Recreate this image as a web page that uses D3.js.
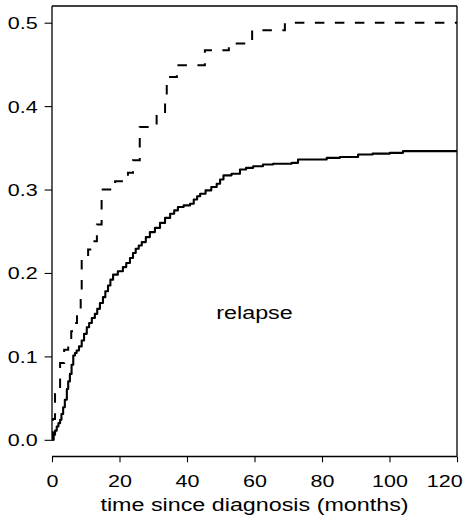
<!DOCTYPE html>
<html>
<head>
<meta charset="utf-8">
<script src="https://cdn.jsdelivr.net/npm/d3@7"></script>
<style>
  html, body { margin: 0; padding: 0; background: #fff; }
  svg { display: block; }
  text { font-family: "Liberation Sans", Arial, Helvetica, sans-serif; fill: #000; }
</style>
</head>
<body>
<svg id="chart" width="464" height="518"></svg>
<script>
// ---- data ----
// dashed curve: step points [months, cumulative incidence]
const dashedTimes  = [0, 0.3, 0.9, 2.4, 3.6, 4.8, 5.7, 6.5, 7.4, 8.5, 8.8, 10.7, 11.8, 13.3, 14.7, 18.7, 22.5, 24.0, 26.0, 31.0, 33.5, 34.0, 37.0, 45.3, 52.4, 59.3, 69.0, 120];
const dashedValues = [0, 0.025, 0.055, 0.092, 0.108, 0.12, 0.13, 0.14, 0.15, 0.18, 0.216, 0.228, 0.238, 0.258, 0.30, 0.31, 0.32, 0.335, 0.375, 0.39, 0.41, 0.435, 0.449, 0.467, 0.475, 0.491, 0.50, 0.50];
// solid curve
const solidTimes  = [0, 0.5, 0.9, 1.4, 1.9, 2.4, 2.8, 3.3, 3.8, 4.4, 4.8, 5.3, 5.8, 6.3, 6.8, 7.3, 8.0, 8.8, 9.5, 10.3, 11.0, 11.8, 12.7, 13.4, 14.2, 15.1, 15.8, 16.6, 17.3, 18.1, 19.5, 21.0, 22.0, 23.1, 24.0, 24.8, 25.7, 26.6, 27.8, 29.0, 30.5, 32.0, 33.5, 35.0, 36.2, 37.3, 39.0, 40.9, 42.0, 43.0, 43.9, 45.5, 47.2, 48.8, 49.8, 50.8, 53.2, 55.7, 57.5, 59.6, 62.5, 65.5, 71.0, 72.9, 81.4, 85.3, 90.7, 95.0, 100.1, 104.0, 120];
const solidValues = [0, 0.006, 0.011, 0.016, 0.02, 0.024, 0.031, 0.039, 0.048, 0.061, 0.07, 0.079, 0.09, 0.101, 0.104, 0.107, 0.112, 0.119, 0.127, 0.135, 0.14, 0.146, 0.151, 0.157, 0.164, 0.171, 0.178, 0.185, 0.192, 0.198, 0.202, 0.207, 0.212, 0.218, 0.224, 0.229, 0.233, 0.237, 0.243, 0.249, 0.254, 0.26, 0.266, 0.271, 0.275, 0.279, 0.281, 0.283, 0.288, 0.292, 0.295, 0.299, 0.303, 0.307, 0.312, 0.317, 0.319, 0.324, 0.326, 0.328, 0.330, 0.331, 0.332, 0.336, 0.338, 0.339, 0.342, 0.343, 0.344, 0.346, 0.346];
const xTicks = [0, 20, 40, 60, 80, 100, 120];
const yTicks = [0.0, 0.1, 0.2, 0.3, 0.4, 0.5];
const xLabel = "time since diagnosis (months)";
const panelLabel = "relapse";

// ---- layout ----
const mLeft = 52, mRight = 457, mTop = 6, mBottom = 456.5;
const tickFont = 16.8, labFont = 18.5, sxTick = 1.28, sxLab = 1.26;

const svg = d3.select("#chart");
const x = d3.scaleLinear().domain([0, 120]).range([mLeft, mRight]);
const y = d3.scaleLinear().domain([-0.02, 0.52]).range([mBottom, mTop]);

const dashed = dashedTimes.map((t, i) => [t, dashedValues[i]]);
const solid = solidTimes.map((t, i) => [t, solidValues[i]]);

const line = d3.line().x(d => x(d[0])).y(d => y(d[1])).curve(d3.curveStepAfter);

svg.append("path").datum(solid)
  .attr("d", line).attr("fill", "none").attr("stroke", "#000")
  .attr("stroke-width", 2.1).attr("stroke-linejoin", "round");

svg.append("path").datum(dashed)
  .attr("d", line).attr("fill", "none").attr("stroke", "#000")
  .attr("stroke-width", 2).attr("stroke-dasharray", "9.5,10.5");

// ---- frame ----
const frame = svg.append("g").attr("stroke", "#000").attr("stroke-width", 1.3).attr("fill", "none");
frame.append("line").attr("x1", mLeft).attr("x2", mRight).attr("y1", mTop).attr("y2", mTop);
frame.append("line").attr("x1", mRight).attr("x2", mRight).attr("y1", mTop).attr("y2", mBottom);
frame.append("line").attr("x1", mLeft).attr("x2", mRight).attr("y1", mBottom).attr("y2", mBottom);
frame.append("line").attr("x1", mLeft).attr("x2", mLeft).attr("y1", mTop).attr("y2", y(0));

// ---- axes ----
const yAxis = d3.axisLeft(y).tickValues(yTicks).tickFormat(d3.format(".1f")).tickSize(7.4);
const gy = svg.append("g").attr("transform", `translate(${mLeft},0)`).call(yAxis);
gy.select(".domain").remove();
gy.selectAll(".tick line").attr("stroke-width", 1.1);
gy.selectAll(".tick text")
  .attr("font-size", tickFont).attr("font-family", null)
  .attr("x", -14.3 / sxTick).attr("dy", "0.355em")
  .attr("transform", `scale(${sxTick},1)`);

const xAxis = d3.axisBottom(x).tickValues(xTicks).tickFormat(d3.format("d")).tickSize(5.7);
const gx = svg.append("g").attr("transform", `translate(0,${mBottom})`).call(xAxis);
gx.select(".domain").remove();
gx.selectAll(".tick line").attr("stroke-width", 1.1);
gx.selectAll(".tick text")
  .attr("font-size", tickFont).attr("font-family", null)
  .attr("y", 30.8).attr("dy", 0)
  .attr("transform", `scale(${sxTick},1)`);
// last label kept inside the picture, as in the reference
gx.selectAll(".tick text").filter(d => d === xTicks[xTicks.length - 1])
  .attr("text-anchor", "end").attr("x", 5.2 / sxTick);

// ---- labels ----
svg.append("g").attr("transform", `translate(${(mLeft + mRight) / 2},511)`)
  .append("text").attr("text-anchor", "middle").attr("font-size", labFont)
  .attr("transform", `scale(${sxLab},1)`).text(xLabel);

svg.append("g").attr("transform", `translate(${x(60)},319)`)
  .append("text").attr("text-anchor", "middle").attr("font-size", labFont)
  .attr("transform", `scale(${sxLab},1)`).text(panelLabel);
</script>
</body>
</html>
